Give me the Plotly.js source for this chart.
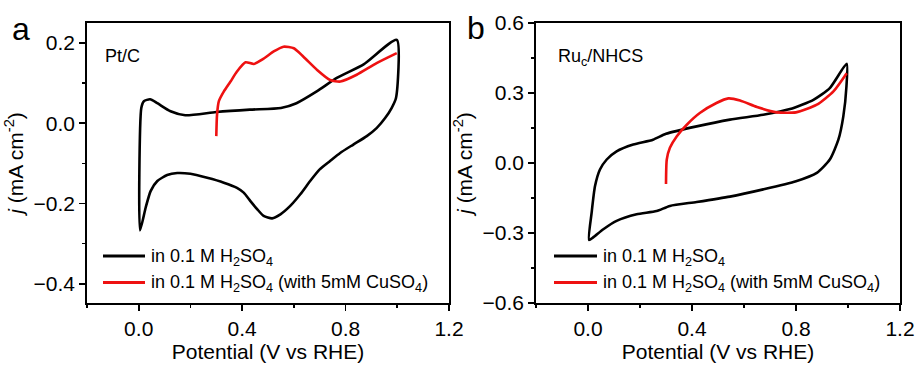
<!DOCTYPE html>
<html><head><meta charset="utf-8">
<script src="https://cdn.plot.ly/plotly-3.0.1.min.js"></script>
<style>html,body{margin:0;padding:0;background:#fff}#c{width:919px;height:365px}</style>
</head><body><div id="c"></div>
<script>
// Panel a: Pt/C
const ptBlackX = [0.005,0.01,0.02,0.044,0.072,0.123,0.18,0.30,0.43,0.55,0.61,0.69,0.766,0.87,0.998,
  0.995,0.978,0.953,0.92,0.882,0.83,0.779,0.74,0.70,0.663,0.625,0.586,0.548,0.516,0.483,0.458,0.432,0.406,0.38,0.329,0.265,0.20,0.149,0.11,0.072,0.046,0.027,0.005];
const ptBlackY = [-0.267,0.038,0.055,0.060,0.050,0.030,0.020,0.028,0.034,0.038,0.050,0.080,0.113,0.147,0.208,
  0.063,0.038,0.013,-0.012,-0.032,-0.053,-0.074,-0.094,-0.115,-0.144,-0.177,-0.206,-0.227,-0.237,-0.231,-0.214,-0.194,-0.173,-0.161,-0.148,-0.136,-0.126,-0.124,-0.129,-0.144,-0.169,-0.21,-0.267];
const ptRedX = [0.30,0.303,0.31,0.33,0.355,0.38,0.413,0.445,0.483,0.522,0.56,0.60,0.637,0.69,0.74,0.78,0.843,0.92,0.998];
const ptRedY = [-0.032,0.022,0.055,0.080,0.104,0.129,0.152,0.148,0.161,0.179,0.191,0.187,0.166,0.133,0.108,0.104,0.121,0.150,0.175];

// Panel b: Ru_c/NHCS
const ruBlackX = [0.004,0.014,0.027,0.046,0.072,0.11,0.174,0.25,0.30,0.418,0.546,0.674,0.777,0.867,0.93,0.995,
  0.994,0.982,0.963,0.93,0.88,0.80,0.674,0.546,0.418,0.315,0.264,0.187,0.11,0.059,0.02,0.004];
const ruBlackY = [-0.33,-0.213,-0.099,-0.028,0.015,0.05,0.079,0.10,0.125,0.157,0.186,0.207,0.231,0.271,0.321,0.425,
  0.328,0.20,0.10,0.015,-0.042,-0.078,-0.113,-0.144,-0.167,-0.184,-0.206,-0.22,-0.248,-0.284,-0.319,-0.33];
const ruRedX = [0.30,0.303,0.315,0.341,0.38,0.43,0.494,0.54,0.585,0.65,0.726,0.80,0.88,0.944,0.995];
const ruRedY = [-0.09,0.015,0.065,0.114,0.164,0.214,0.257,0.277,0.268,0.24,0.217,0.217,0.25,0.307,0.385];

const labelBlack = 'in 0.1 M H<sub>2</sub>SO<sub>4</sub>';
const labelRed = 'in 0.1 M H<sub>2</sub>SO<sub>4</sub> (with 5mM CuSO<sub>4</sub>)';
const xTicks = [0.0,0.4,0.8,1.2];
const xTickText = ['0.0','0.4','0.8','1.2'];
const yTicksA = [-0.4,-0.2,0.0,0.2];
const yTickTextA = ['\u22120.4','\u22120.2','0.0','0.2'];
const yTicksB = [-0.6,-0.3,0.0,0.3,0.6];
const yTickTextB = ['\u22120.6','\u22120.3','0.0','0.3','0.6'];

const F = 'Arial, "Liberation Sans", sans-serif';
const BLACK = '#000000', RED = '#ee1111';
const lw = 2.6;
const traces = [
  {x:ptBlackX,y:ptBlackY,mode:'lines',line:{color:BLACK,width:lw,shape:'spline',smoothing:0.6},name:labelBlack,xaxis:'x',yaxis:'y'},
  {x:ptRedX,y:ptRedY,mode:'lines',line:{color:RED,width:lw,shape:'spline',smoothing:0.6},name:labelRed,xaxis:'x',yaxis:'y'},
  {x:ruBlackX,y:ruBlackY,mode:'lines',line:{color:BLACK,width:lw,shape:'spline',smoothing:0.6},name:labelBlack,xaxis:'x2',yaxis:'y2'},
  {x:ruRedX,y:ruRedY,mode:'lines',line:{color:RED,width:lw,shape:'spline',smoothing:0.6},name:labelRed,xaxis:'x2',yaxis:'y2'}
];
function xa(dom, anchor){
  return {domain:dom, anchor:anchor, range:[-0.2,1.2], tickvals:xTicks, ticktext:xTickText,
    ticks:'outside', ticklen:6, tickwidth:1.6, tickcolor:'#000',
    minor:{dtick:0.2, tick0:0, ticks:'outside', ticklen:3, tickwidth:1.6, tickcolor:'#000'},
    showline:true, linewidth:1.8, linecolor:'#000', mirror:true, showgrid:false, zeroline:false,
    tickfont:{family:F,size:21,color:'#000'},
    title:{text:'Potential (V vs RHE)', font:{family:F,size:21,color:'#000'}, standoff:2}};
}
function ya(dom, anchor, range, tv, tt, minorD){
  return {domain:dom, anchor:anchor, range:range, tickvals:tv, ticktext:tt,
    ticks:'outside', ticklen:6, tickwidth:1.6, tickcolor:'#000',
    minor:{dtick:minorD, tick0:0, ticks:'outside', ticklen:3, tickwidth:1.6, tickcolor:'#000'},
    showline:true, linewidth:1.8, linecolor:'#000', mirror:true, showgrid:false, zeroline:false,
    tickfont:{family:F,size:21,color:'#000'},
    title:{text:'<i>j</i> (mA cm<sup>-2</sup>)', font:{family:F,size:21,color:'#000'}, standoff:4}};
}
const yd = [1-303/365, 1-23/365];
function py(p){ return 1 - p/365; }
function pxf(p){ return p/919; }
const legA = {x0:103, x1:145, tx:149};
const legB = {x0:554, x1:597, tx:601};
const rows = [256, 282.5];
const shapes = [];
const legAnn = [];
[legA, legB].forEach((L)=>{
  [[BLACK,labelBlack],[RED,labelRed]].forEach(([col,txt],i)=>{
    shapes.push({type:'line', xref:'paper', yref:'paper', x0:pxf(L.x0), x1:pxf(L.x1), y0:py(rows[i]), y1:py(rows[i]), line:{color:col,width:3}});
    legAnn.push({text:txt, xref:'paper', yref:'paper', x:pxf(L.tx), y:py(rows[i]+1), xanchor:'left', yanchor:'middle', showarrow:false, font:{family:F,size:18,color:'#000'}});
  });
});
const layout = {
  width:919, height:365, margin:{l:0,r:0,t:0,b:0}, paper_bgcolor:'#fff', plot_bgcolor:'#fff',
  font:{family:F,color:'#000'}, showlegend:false,
  xaxis: xa([87/919, 449/919],'y'),
  yaxis: ya(yd,'x',[-0.448,0.25],yTicksA,yTickTextA,0.1),
  xaxis2: xa([536/919, 900/919],'y2'),
  yaxis2: ya(yd,'x2',[-0.6,0.6],yTicksB,yTickTextB,0.15),
  shapes: shapes,
  annotations:[
    {text:'a', xref:'paper', yref:'paper', x:pxf(21), y:py(9), xanchor:'center', yanchor:'top', showarrow:false, font:{family:F,size:32,color:'#000'}},
    {text:'b', xref:'paper', yref:'paper', x:pxf(476), y:py(8), xanchor:'center', yanchor:'top', showarrow:false, font:{family:F,size:32,color:'#000'}},
    {text:'Pt/C', xref:'paper', yref:'paper', x:pxf(103), y:py(44), xanchor:'left', showarrow:false, font:{family:F,size:18,color:'#000'}},
    {text:'Ru<sub>c</sub>/NHCS', xref:'paper', yref:'paper', x:pxf(556), y:py(44), xanchor:'left', showarrow:false, font:{family:F,size:18,color:'#000'}}
  ].concat(legAnn)
};
Plotly.newPlot('c', traces, layout, {staticPlot:true});
</script></body></html>
